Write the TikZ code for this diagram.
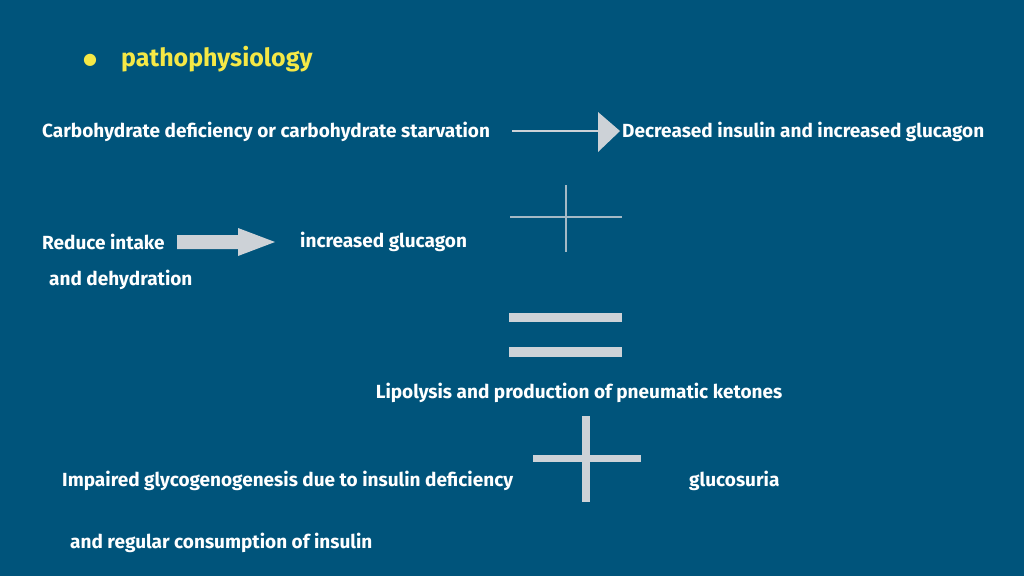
\documentclass[tikz,border=0pt]{standalone}
\usepackage{fontspec}
\setmainfont{Fira Sans}
\newfontfamily\symfont{DejaVu Sans}
\usetikzlibrary{positioning}
\definecolor{slideblue}{RGB}{0,84,123}
\definecolor{titleyellow}{RGB}{245,232,70}
\definecolor{arrowgray}{RGB}{205,210,215}
\tikzset{
  txt/.style={anchor=west, text=white, font=\fontsize{19}{22}\selectfont\bfseries, inner sep=0pt},
  bar/.style={fill=arrowgray, draw=none}
}

\begin{document}
\begin{tikzpicture}[x=1pt, y=-1pt]
    % Background
    \fill[slideblue] (0,0) rectangle (1024,576);
    \useasboundingbox (0,0) rectangle (1024,576);

    \node[text=titleyellow, font=\symfont\fontsize{16}{18}\selectfont] (bullet) at (90,60) {●};
    \node[anchor=west, inner sep=0pt, text=titleyellow, font=\fontsize{25}{28}\selectfont\bfseries] (title) at (121,59) {pathophysiology};

    \node[txt] (carb) at (42,132) {Carbohydrate deficiency or carbohydrate starvation};
    \node[txt] (decr) at (622,132) {Decreased insulin and increased glucagon};

    % thin arrow
    \draw[arrowgray, line width=2pt] (512,131) -- (600,131);
    \fill[arrowgray] (598,112) -- (620,131) -- (598,152) -- cycle;

    % thin plus
    \draw[arrowgray!80!slideblue, line width=1.2pt] (566,185) -- (566,252);
    \draw[arrowgray!80!slideblue, line width=1.2pt] (510,217) -- (622,217);

    \node[txt] (reduce) at (42,242) {Reduce intake};
    \node[txt] (glucagon) at (300,242) {increased glucagon};
    \node[txt] (dehyd) at (49,280) {and dehydration};

    % block arrow
    \fill[arrowgray] (177,235) -- (238,235) -- (238,228) -- (275,242) -- (238,256) -- (238,249) -- (177,249) -- cycle;

    % equals
    \fill[bar] (509,313) rectangle (622,322);
    \fill[bar] (509,347) rectangle (622,357);

    \node[txt, anchor=center] (lipo) at (579,393) {Lipolysis and production of pneumatic ketones};

    % thick plus
    \fill[bar] (582,416) rectangle (590,502);
    \fill[bar] (533,455) rectangle (641,462);

    \node[txt] (impair) at (62,481) {Impaired glycogenogenesis due to insulin deficiency};
    \node[txt] (gluco) at (689,481) {glucosuria};
    \node[txt] (regular) at (70,543) {and regular consumption of insulin};
\end{tikzpicture}
\end{document}
